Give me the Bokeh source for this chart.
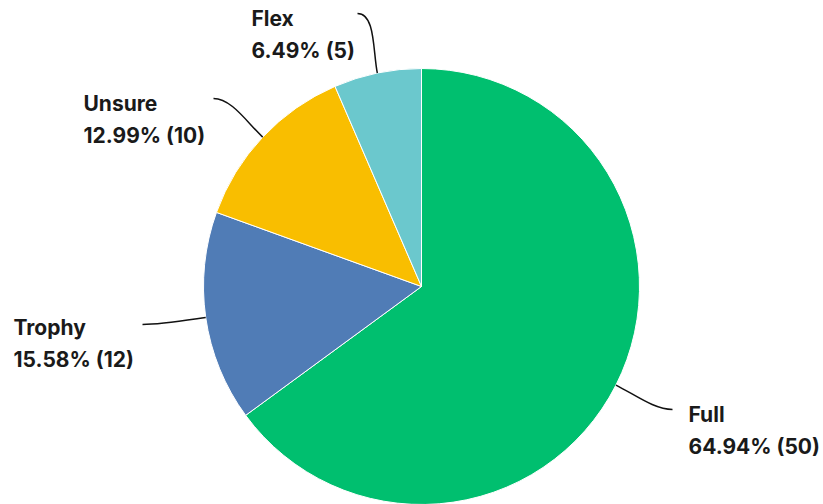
import math
from bokeh.plotting import figure
from bokeh.models import Range1d, ColumnDataSource
from bokeh.core.properties import value
from bokeh.embed import file_html
from bokeh.resources import INLINE

categories = ["Full", "Trophy", "Unsure", "Flex"]
counts = [50, 12, 10, 5]
percents = ["64.94%", "15.58%", "12.99%", "6.49%"]
colors = ["#00BF6F", "#507CB6", "#F9BE00", "#6BC8CD"]

# layout (page pixel coords; data y = 504 - page y)
CX, CY, R = 421, 504 - 286, 218
label_ends = [(672, 409), (142, 324), (213, 98), (357, 13)]
label_pos = [(688, 414), (13, 327), (83, 103), (251, 18)]
FONT = "Inter"
FS = "21px"
LINE_GAP = 32

total = sum(counts)
starts, ends, mids = [], [], []
cum = 0
for c in counts:
    a0 = math.pi / 2 - 2 * math.pi * cum / total
    cum += c
    a1 = math.pi / 2 - 2 * math.pi * cum / total
    starts.append(a0)
    ends.append(a1)
    mids.append((a0 + a1) / 2)

p = figure(width=823, height=504, output_backend="svg", toolbar_location=None,
           x_range=Range1d(0, 823), y_range=Range1d(0, 504), min_border=0)
p.axis.visible = False
p.grid.visible = False
p.outline_line_color = None
p.background_fill_color = "white"

src = ColumnDataSource(dict(start=starts, end=ends, color=colors))
p.wedge(x=CX, y=CY, radius=R, start_angle="start", end_angle="end",
        direction="clock", fill_color="color", line_color="white",
        line_width=1, source=src)

# leader lines
x0s, y0s, x1s, y1s, cx0s, cy0s, cx1s, cy1s = [], [], [], [], [], [], [], []
for m, (ex, ey) in zip(mids, label_ends):
    sx = CX + R * math.cos(m)
    sy = CY + R * math.sin(m)
    c0x = CX + (R + 22) * math.cos(m)
    c0y = CY + (R + 22) * math.sin(m)
    ey = 504 - ey
    dirx = 1 if ex > sx else -1
    c1x = ex - dirx * 18
    c1y = ey
    x0s.append(sx); y0s.append(sy); x1s.append(ex); y1s.append(ey)
    cx0s.append(c0x); cy0s.append(c0y); cx1s.append(c1x); cy1s.append(c1y)
p.bezier(x0=x0s, y0=y0s, x1=x1s, y1=y1s, cx0=cx0s, cy0=cy0s,
         cx1=cx1s, cy1=cy1s, line_color="#111111", line_width=1.5)

# labels
tx, ty, tt = [], [], []
for cat, pc, n, (lx, ly) in zip(categories, percents, counts, label_pos):
    tx += [lx, lx]
    ty += [504 - ly, 504 - ly - LINE_GAP]
    tt += [cat, f"{pc} ({n})"]
p.text(x=tx, y=ty, text=tt, text_font=value(FONT), text_font_size=FS,
       text_font_style="bold", text_color="#1a1a1a", text_baseline="alphabetic",
       text_align="left")

open("out.html", "w").write(file_html(p, INLINE))
